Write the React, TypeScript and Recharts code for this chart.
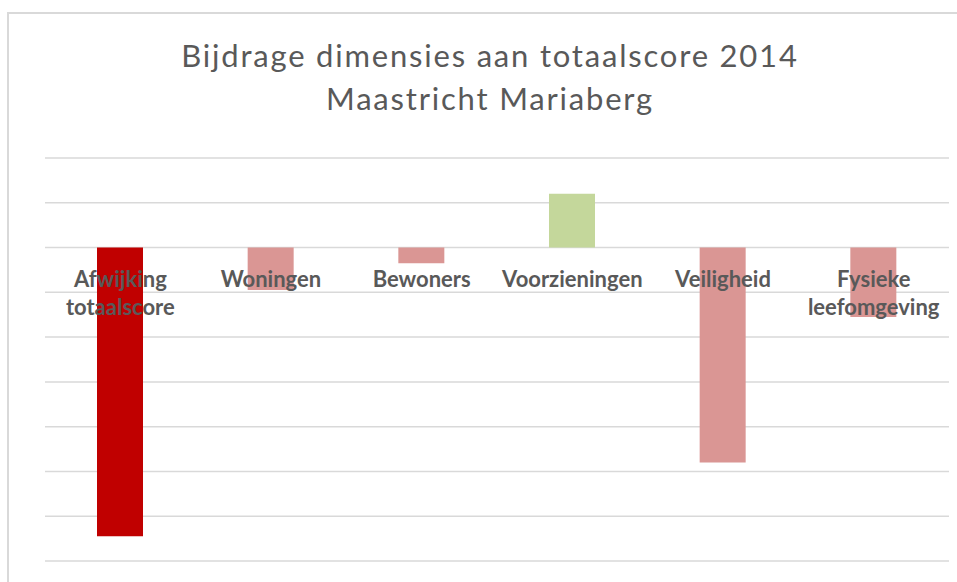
import { BarChart, Bar, XAxis, YAxis, CartesianGrid, Cell } from 'recharts';

// categories (line breaks as in the source chart)
const categories = [
  'Afwijking\ntotaalscore',
  'Woningen',
  'Bewoners',
  'Voorzieningen',
  'Veiligheid',
  'Fysieke\nleefomgeving',
];
const contributions = [-1.29, -0.19, -0.07, 0.24, -0.96, -0.31];
const barColors = ['#C00000', '#DA9694', '#DA9694', '#C4D79B', '#DA9694', '#DA9694'];
const yTicks = [-1.4, -1.2, -1.0, -0.8, -0.6, -0.4, -0.2, 0, 0.2, 0.4];

const titleLines = ['Bijdrage dimensies aan totaalscore 2014', 'Maastricht Mariaberg'];

const WIDTH = 940;
const HEIGHT = 566;
const MARGIN = { top: 144, right: 0, left: 36, bottom: 18 };
const Y_MIN = yTicks[0];
const Y_MAX = yTicks[yTicks.length - 1];

const data = categories.map((name, i) => ({ name, value: contributions[i] }));

// no scrollbars: the chart frame runs off the right and bottom edges
if (typeof document !== 'undefined') {
  document.documentElement.style.overflow = 'hidden';
  document.body.style.overflow = 'hidden';
}

// category labels sit on the zero line, like Excel does with "axis at 0"
function CategoryTick(props: any) {
  const { x, payload } = props;
  const plotH = HEIGHT - MARGIN.top - MARGIN.bottom - 1;
  const zeroY = MARGIN.top + (plotH * Y_MAX) / (Y_MAX - Y_MIN);
  const lines = String(payload.value).split('\n');
  return (
    <text
      x={x}
      y={zeroY + 39}
      textAnchor="middle"
      fill="#595959"
      fontSize={22}
      fontWeight={700}
      fontFamily="Lato, 'Open Sans', sans-serif"
    >
      {lines.map((line, i) => (
        <tspan key={i} x={x} dy={i === 0 ? 0 : 28}>
          {line}
        </tspan>
      ))}
    </text>
  );
}

export default function App() {
  return (
    <div
      style={{
        position: 'absolute',
        top: 12,
        left: 7,
        width: 948,
        height: 568,
        borderTop: '2px solid #d9d9d9',
        borderLeft: '2px solid #d9d9d9',
      }}
    >
      <div
        style={{
          position: 'absolute',
          top: 20,
          left: 0,
          width: 962,
          textAlign: 'center',
          fontFamily: "Lato, 'Open Sans', sans-serif",
          fontSize: 31,
          letterSpacing: '1.8px',
          lineHeight: '43px',
          color: '#595959',
        }}
      >
        {titleLines.map((t) => (
          <div key={t}>{t}</div>
        ))}
      </div>
      <BarChart width={WIDTH} height={HEIGHT} data={data} margin={MARGIN}>
        <CartesianGrid vertical={false} stroke="#d9d9d9" strokeWidth={1.5} />
        <YAxis hide domain={[Y_MIN, Y_MAX]} ticks={yTicks} width={0} />
        <Bar dataKey="value" barSize={46} isAnimationActive={false}>
          {data.map((_, i) => (
            <Cell key={i} fill={barColors[i]} />
          ))}
        </Bar>
        <XAxis
          dataKey="name"
          axisLine={false}
          tickLine={false}
          interval={0}
          height={1}
          tick={(p: any) => <CategoryTick {...p} />}
        />
      </BarChart>
    </div>
  );
}
